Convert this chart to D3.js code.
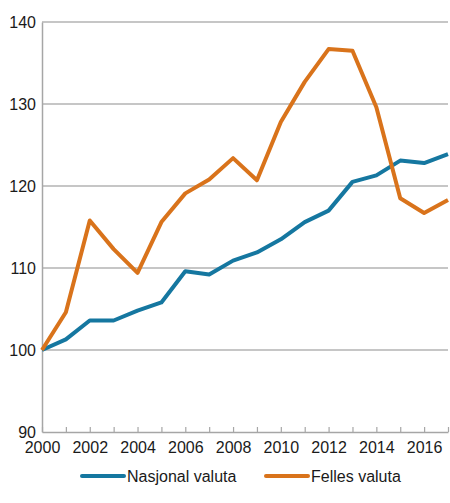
<!DOCTYPE html>
<html>
<head>
<meta charset="utf-8">
<script src="https://cdn.jsdelivr.net/npm/d3@7"></script>
<style>
  body { margin: 0; background: #fff; }
  text { font-family: "Liberation Sans", Arial, sans-serif; }
</style>
</head>
<body>
<svg id="chart" width="450" height="503"></svg>
<script>
// data
var years = d3.range(2000, 2018);
var nasjonal = [100, 101.3, 103.6, 103.6, 104.8, 105.8, 109.6, 109.2, 110.9, 111.9,
  113.5, 115.6, 117.0, 120.5, 121.3, 123.1, 122.8, 123.9];
var felles = [100, 104.6, 115.8, 112.3, 109.4, 115.6, 119.1, 120.8, 123.4, 120.7,
  127.8, 132.7, 136.7, 136.5, 129.6, 118.5, 116.7, 118.3];
var yTicks = [90, 100, 110, 120, 130, 140];
var xLabels = [2000, 2002, 2004, 2006, 2008, 2010, 2012, 2014, 2016];
var seriesNames = ["Nasjonal valuta", "Felles valuta"];
var colors = ["#1577a0", "#d9731b"];

var margin = { top: 22, right: 2, bottom: 71, left: 42 },
  width = 450 - margin.left - margin.right,
  height = 503 - margin.top - margin.bottom;

var svg = d3.select("#chart")
  .append("g")
  .attr("transform", "translate(" + margin.left + "," + margin.top + ")");

var x = d3.scaleLinear().domain([2000, 2017]).range([0, width]);
var y = d3.scaleLinear().domain([90, 140]).range([height, 0]);

// gridlines
svg.append("g")
  .selectAll("line")
  .data(yTicks.filter(function (d) { return d > 90; }))
  .join("line")
  .attr("x1", 0)
  .attr("x2", width)
  .attr("y1", function (d) { return y(d); })
  .attr("y2", function (d) { return y(d); })
  .attr("stroke", "#b3b3b3")
  .attr("stroke-width", 1.5);

// y axis
var yAxis = d3.axisLeft(y).tickValues(yTicks).tickSize(0);
var gy = svg.append("g").call(yAxis);
gy.select(".domain").attr("stroke", "#a6a6a6").attr("stroke-width", 1.5);
gy.selectAll("text")
  .attr("font-size", 16)
  .attr("fill", "#1a1a1a")
  .attr("dy", "0.35em")
  .attr("x", -6)
  .style("font-family", "Liberation Sans, Arial, sans-serif");

// x axis, ticks point up into the plot
var xAxis = d3.axisBottom(x).tickValues(years).tickSizeInner(-5).tickSizeOuter(0)
  .tickFormat(function (d) { return xLabels.indexOf(d) >= 0 ? d : ""; });
var gx = svg.append("g")
  .attr("transform", "translate(0," + height + ")")
  .call(xAxis);
gx.select(".domain").attr("stroke", "#a6a6a6").attr("stroke-width", 1.5);
gx.selectAll(".tick line").attr("stroke", "#a6a6a6").attr("stroke-width", 1.2);
gx.selectAll("text")
  .attr("font-size", 16)
  .attr("fill", "#1a1a1a")
  .attr("y", 10)
  .style("font-family", "Liberation Sans, Arial, sans-serif");

var line = d3.line()
  .x(function (d, i) { return x(years[i]); })
  .y(function (d) { return y(d); });

[nasjonal, felles].forEach(function (s, i) {
  svg.append("path")
    .datum(s)
    .attr("d", line)
    .attr("fill", "none")
    .attr("stroke", colors[i])
    .attr("stroke-width", 4)
    .attr("stroke-linejoin", "round");
});

// legend
var legendX = [82, 266];
var legend = d3.select("#chart").append("g");
seriesNames.forEach(function (name, i) {
  legend.append("line")
    .attr("x1", legendX[i])
    .attr("x2", legendX[i] + 42)
    .attr("y1", 476)
    .attr("y2", 476)
    .attr("stroke", colors[i])
    .attr("stroke-width", 4)
    .attr("stroke-linecap", "round");
  legend.append("text")
    .attr("x", legendX[i] + 45)
    .attr("y", 482)
    .attr("font-size", 16)
    .attr("fill", "#1a1a1a")
    .text(name);
});
</script>
</body>
</html>
